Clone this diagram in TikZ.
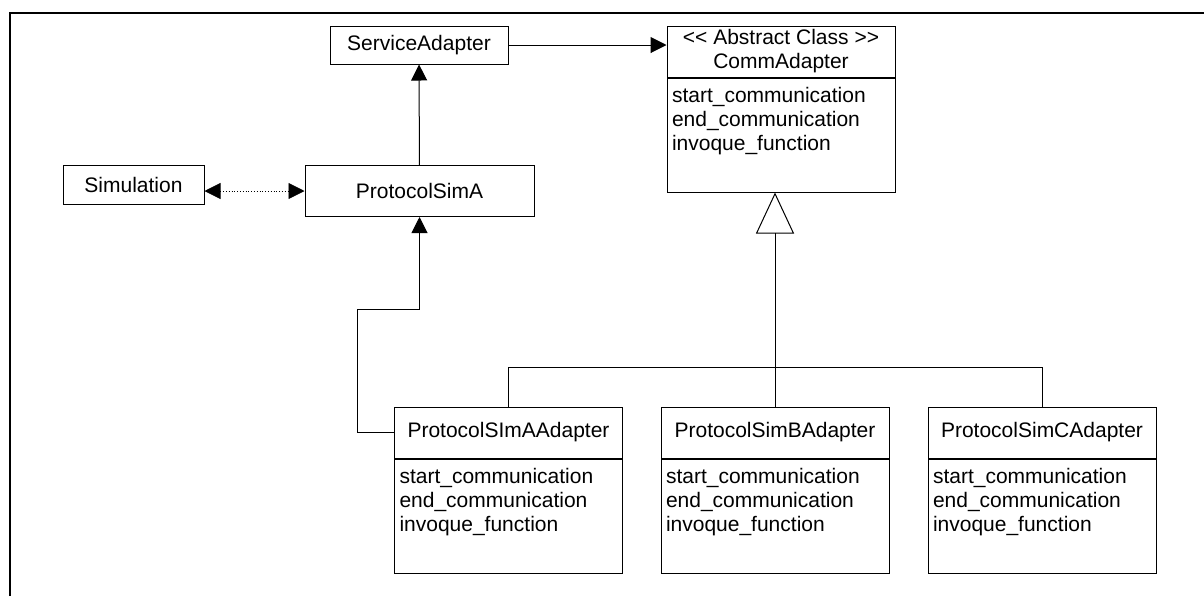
\documentclass[tikz,border=0pt]{standalone}
\usepackage{fontspec}
\setmainfont{Liberation Sans}
\usetikzlibrary{positioning,arrows.meta,calc}
\begin{document}
\begin{tikzpicture}[x=0.5pt, y=-0.5pt, line width=0.5pt,
    font=\fontsize{10.5}{12}\selectfont,
    box/.style = {draw, inner sep=0pt},
    cls/.style = {draw, inner sep=0pt, minimum width=114pt, minimum height=25.5pt, align=center},
    ops/.style = {draw, inner sep=0pt, minimum width=114pt, minimum height=57pt},
    meth/.style = {anchor=north west, align=left, inner xsep=2.5pt, inner ysep=4.5pt},
    tip/.style = {-{Triangle[length=8pt,width=8pt]}}]
        \useasboundingbox (0,0) rectangle (1204,596);
        \draw[line width=1.3pt] (10,596) -- (10,13) -- (1204,13);
        % upper part
        \node[box, minimum width=70.5pt, minimum height=19.5pt] (sim) at (133.5,184.5) {Simulation};
        \node[box, minimum width=89pt, minimum height=19pt] (svc) at (419,45) {ServiceAdapter};
        \node[box, minimum width=114.5pt, minimum height=25.5pt] (protoa) at (419.5,191) {ProtocolSimA};
        \node[cls] (commhead) at (781,51.5) {<{}< Abstract Class >{}>\\CommAdapter};
        \node[ops] (commbody) [below=0pt of commhead] {};
        \node[meth] (commops) at (commbody.north west) {start\_communication\\end\_communication\\invoque\_function};
        % adapters
        \node[cls] (ahead) at (508.5,432.5) {ProtocolSImAAdapter};
        \node[ops] (abody) [below=0pt of ahead] {};
        \node[meth] (aops) at (abody.north west) {start\_communication\\end\_communication\\invoque\_function};
        \node[cls] (bhead) at (775,432.5) {ProtocolSimBAdapter};
        \node[ops] (bbody) [below=0pt of bhead] {};
        \node[meth] (bops) at (bbody.north west) {start\_communication\\end\_communication\\invoque\_function};
        \node[cls] (chead) at (1042,432.5) {ProtocolSimCAdapter};
        \node[ops] (cbody) [below=0pt of chead] {};
        \node[meth] (cops) at (cbody.north west) {start\_communication\\end\_communication\\invoque\_function};
        % connectors
        \draw[{Triangle[length=8pt,width=8pt]}-{Triangle[length=8pt,width=8pt]}, densely dotted, line width=0.4pt] (sim.east |- protoa.west) -- (protoa.west);
        \draw[tip] (protoa) -- (svc);
        \draw[tip] (svc.east) -- (svc.east -| commhead.west);
        \draw[tip] (ahead.west) -| ($(protoa.south)+(-62,92)$) -| (protoa.south);
        \draw[-{Triangle[open,length=20.5pt,width=19pt]}] (bhead.north) -- (bhead.north |- commbody.south);
        \draw (ahead.north) |- ($(bhead.north)+(0,-39)$) -| (chead.north);
\end{tikzpicture}
\end{document}
